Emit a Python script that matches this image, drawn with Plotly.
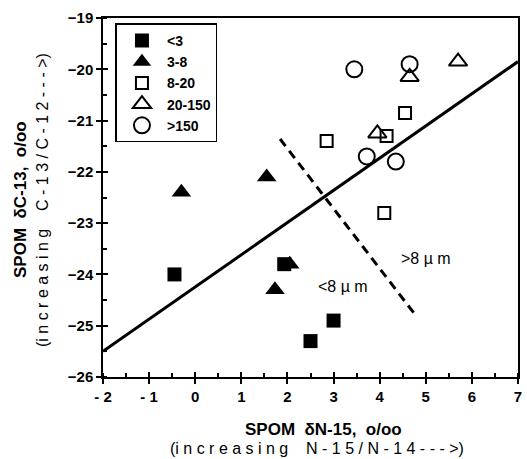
import plotly.graph_objects as go

# data
lt3_x = [-0.45, 1.93, 3.0, 2.5]
lt3_y = [-24.0, -23.8, -24.9, -25.3]
s3_8_x = [-0.3, 1.55, 2.05, 1.73]
s3_8_y = [-22.4, -22.1, -23.8, -24.3]
s8_20_x = [2.85, 4.15, 4.55, 4.1]
s8_20_y = [-21.4, -21.3, -20.85, -22.8]
s20_150_x = [3.95, 4.65, 5.7]
s20_150_y = [-21.25, -20.15, -19.85]
gt150_x = [3.45, 4.65, 3.72, 4.35]
gt150_y = [-20.0, -19.9, -21.7, -21.8]

reg_x = [-2, 7]
reg_y = [-25.5, -19.85]
div_x = [1.84, 4.8]
div_y = [-21.36, -24.82]

x_ticks = [-2, -1, 0, 1, 2, 3, 4, 5, 6, 7]
x_ticktext = ["- 2", "- 1", "0", "1", "2", "3", "4", "5", "6", "7"]
y_ticks = [-26, -25, -24, -23, -22, -21, -20, -19]

FONT = "Liberation Sans, Arial, sans-serif"

fig = go.Figure()
fig.add_trace(go.Scatter(x=reg_x, y=reg_y, mode="lines", line=dict(color="black", width=3), showlegend=False))
fig.add_trace(go.Scatter(x=div_x, y=div_y, mode="lines", line=dict(color="black", width=3, dash="9px,6px"), showlegend=False))

fig.add_trace(go.Scatter(x=lt3_x, y=lt3_y, mode="markers", name="<3",
                         marker=dict(symbol="square", size=14, color="black")))
fig.add_trace(go.Scatter(x=s3_8_x, y=s3_8_y, mode="markers", name="3-8",
                         marker=dict(symbol="triangle-up", size=17, color="black")))
fig.add_trace(go.Scatter(x=s8_20_x, y=s8_20_y, mode="markers", name="8-20",
                         marker=dict(symbol="square-open", size=12, color="black", line=dict(width=2))))
fig.add_trace(go.Scatter(x=s20_150_x, y=s20_150_y, mode="markers", name="20-150",
                         marker=dict(symbol="triangle-up-open", size=16, color="black", line=dict(width=2))))
fig.add_trace(go.Scatter(x=gt150_x, y=gt150_y, mode="markers", name=">150",
                         marker=dict(symbol="circle-open", size=16, color="black", line=dict(width=2))))

# dummy trace on overlay axes for inside major ticks
fig.add_trace(go.Scatter(x=[None], y=[None], xaxis="x2", yaxis="y2", showlegend=False, hoverinfo="skip"))

fig.add_annotation(x=5.0, y=-23.69, text="&gt;8 µ m", showarrow=False,
                   font=dict(family=FONT, size=16, color="black"))
fig.add_annotation(x=3.2, y=-24.24, text="&lt;8 µ m", showarrow=False,
                   font=dict(family=FONT, size=16, color="black"))

# axis titles
fig.add_annotation(xref="paper", yref="paper", x=0.532, y=-0.146, yanchor="middle",
                   text="<b>SPOM  δN-15,  o/oo</b>", showarrow=False,
                   font=dict(family=FONT, size=17, color="black"))
fig.add_annotation(xref="paper", yref="paper", x=0.516, y=-0.2256, yanchor="bottom",
                   text="(i n c r e a s i n g    N - 1 5 / N - 1 4 - - - >)", showarrow=False,
                   font=dict(family=FONT, size=16, color="black"), borderpad=0)
fig.add_annotation(xref="paper", yref="paper", x=-0.2, y=0.493, xanchor="center", yanchor="middle",
                   text="<b>SPOM  δC-13,  o/oo</b>", textangle=-90, showarrow=False,
                   font=dict(family=FONT, size=17, color="black"))
fig.add_annotation(xref="paper", yref="paper", x=-0.147, y=0.493, xanchor="center", yanchor="middle",
                   text="(i n c r e a s i n g    C - 1 3 / C - 1 2 - - - >)", textangle=-90, showarrow=False,
                   font=dict(family=FONT, size=16, color="black"))

axis_common = dict(showgrid=False, zeroline=False, linecolor="black", linewidth=1.5,
                   mirror=True, ticks="outside", ticklen=5, tickwidth=1.5, tickcolor="black",
                   tickfont=dict(family=FONT, size=15, color="black", weight="bold"))

fig.update_layout(
    width=527, height=459,
    margin=dict(l=103, r=5, t=18, b=82),
    paper_bgcolor="white", plot_bgcolor="white",
    font=dict(family=FONT, color="black"),
    xaxis=dict(range=[-2, 7], tickvals=x_ticks, ticktext=x_ticktext,
               minor=dict(dtick=0.5, ticks="inside", ticklen=4, tickwidth=1.5, tickcolor="black"),
               **axis_common),
    yaxis=dict(range=[-26, -19], tickvals=y_ticks,
               minor=dict(dtick=0.5, ticks="inside", ticklen=4, tickwidth=1.5, tickcolor="black"),
               **axis_common),
    xaxis2=dict(overlaying="x", matches="x", range=[-2, 7], tickvals=x_ticks, ticks="inside",
                ticklen=5, tickwidth=1.5, tickcolor="black", showticklabels=False,
                showgrid=False, zeroline=False, showline=False, side="bottom"),
    yaxis2=dict(overlaying="y", matches="y", range=[-26, -19], tickvals=y_ticks, ticks="inside",
                ticklen=5, tickwidth=1.5, tickcolor="black", showticklabels=False,
                showgrid=False, zeroline=False, showline=False, side="left"),
    legend=dict(x=0.03, y=0.985, xanchor="left", yanchor="top",
                bordercolor="black", borderwidth=1.5, bgcolor="white",
                font=dict(family=FONT, size=14, color="black", weight="bold"),
                itemwidth=40, tracegroupgap=0),
    showlegend=True,
)

fig.write_html("out.html")
